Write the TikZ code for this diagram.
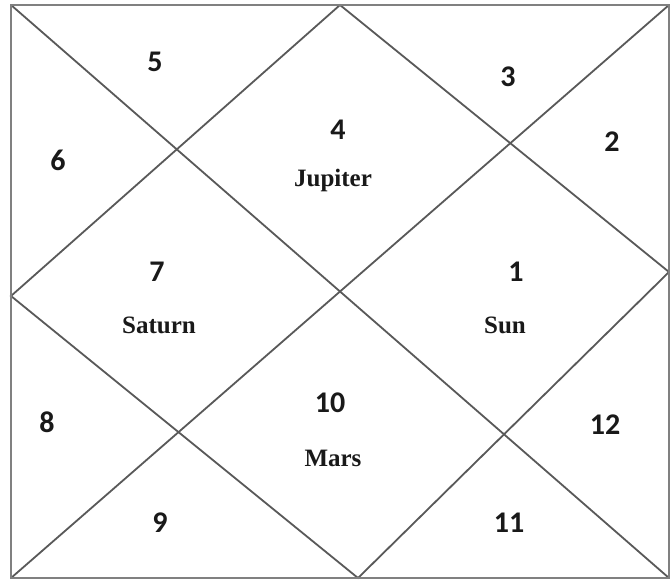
\documentclass[tikz,border=0pt]{standalone}
\usepackage{fontspec}
\newfontfamily\numfont{Carlito}
\newfontfamily\planetfont{Liberation Serif}
\begin{document}
\begin{tikzpicture}[x=1pt,y=-1pt,
  grid/.style={draw=black!65,line width=1.8pt},
  frame/.style={draw=black!50,line width=2.4pt},
  num/.style={font=\numfont\bfseries\fontsize{30}{34}\selectfont,text=black!90,inner sep=0pt},
  planet/.style={font=\planetfont\bfseries\fontsize{25}{29}\selectfont,text=black!90,inner sep=0pt}]
\useasboundingbox (0,0) rectangle (670,580);
\fill[white] (0,0) rectangle (670,580);
\coordinate (tl) at (11,5);
\coordinate (tr) at (669,5);
\coordinate (bl) at (11,578);
\coordinate (br) at (669,578);
\coordinate (tm) at (340,5);
\coordinate (lm) at (11,296);
\coordinate (rm) at (669,272);
\coordinate (bm) at (358,578);
\draw[grid] (tl) -- (br);
\draw[grid] (tr) -- (bl);
\draw[grid] (tm) -- (lm) -- (bm) -- (rm) -- cycle;
\draw[frame] (tl) -- (tr) -- (br) -- (bl) -- cycle;
\node[num] (h5) at (155,62) {5};
\node[num] (h3) at (508,77) {3};
\node[num] (h6) at (58,160) {6};
\node[num] (h4) at (338,130) {4};
\node[planet] (jup) at (333,180) {Jupiter};
\node[num] (h2) at (612,142) {2};
\node[num] (h7) at (157,272) {7};
\node[planet] (sat) at (159,325) {Saturn};
\node[num] (h1) at (516,272) {1};
\node[planet] (sun) at (505,325) {Sun};
\node[num] (h8) at (47,422) {8};
\node[num] (h10) at (330,403) {10};
\node[planet] (mars) at (333,458) {Mars};
\node[num] (h12) at (605,425) {12};
\node[num] (h9) at (160,523) {9};
\node[num] (h11) at (509,523) {11};
\end{tikzpicture}
\end{document}
